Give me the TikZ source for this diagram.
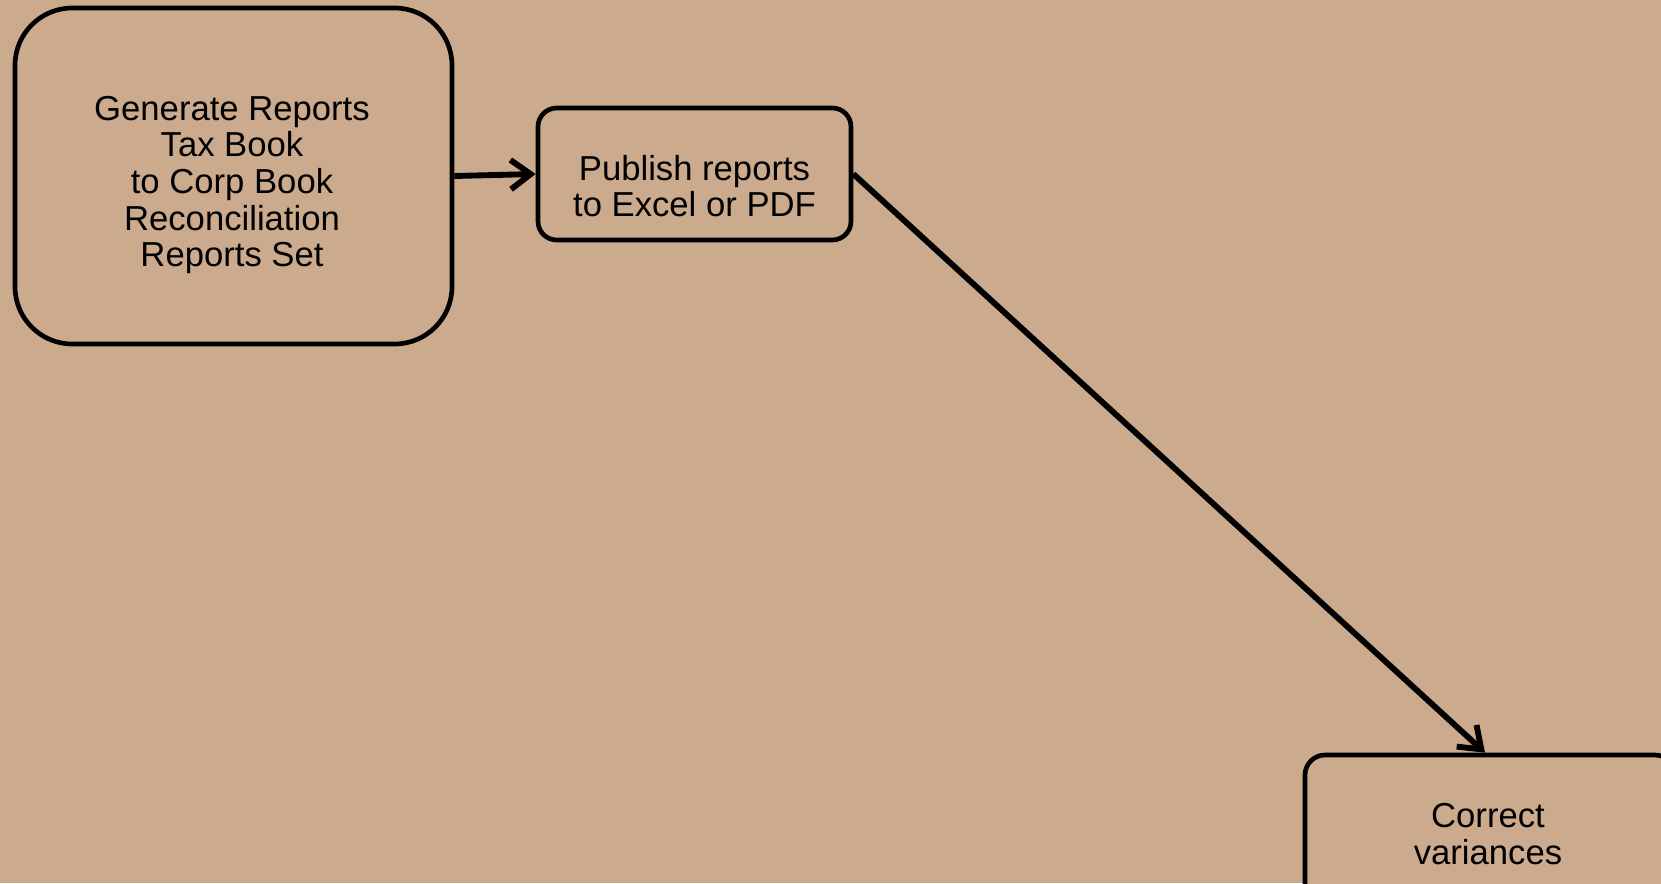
\documentclass[tikz,border=0pt]{standalone}
\usepackage{fontspec}
\setmainfont{Liberation Sans}
\usetikzlibrary{arrows.meta}
\definecolor{bgtan}{RGB}{203,170,142}
\begin{document}
\begin{tikzpicture}[x=0.75pt,y=-0.75pt,
  box/.style={draw=black, line width=3.5pt, rounded corners=#1, fill=bgtan, inner sep=0pt},
  txt/.style={align=center, font=\fontsize{26}{27.4}\selectfont, inner sep=0pt},
  conn/.style={line width=4.4pt, -{Straight Barb[length=15pt,width=22pt,line width=4.4pt]}}]
\fill[bgtan] (0,0) rectangle (1661,883);
\useasboundingbox (0,0) rectangle (1661,883);
\node[box=43pt, minimum width=437*0.75pt, minimum height=336*0.75pt] (gen) at (233.5,176) {};
\node[txt] (gentext) at (232,185)
  {Generate Reports\\Tax Book\\to Corp Book\\Reconciliation\\Reports Set};
\node[box=14pt, minimum width=313*0.75pt, minimum height=132*0.75pt] (pub) at (694.5,174) {};
\node[txt] (pubtext) at (694.5,186) {Publish reports\\to Excel or PDF};
\begin{scope}
\clip (0,0) rectangle (1661,883);
\node[box=15pt, minimum width=370*0.75pt, minimum height=160*0.75pt] (cor) at (1490,835) {};
\node[txt] (cortext) at (1488,834) {Correct\\variances};
\end{scope}
\draw[conn] (gen.east) -- (pub.west);
\draw[conn] (pub.east) -- (cor.north -| 1485,0);
\end{tikzpicture}
\end{document}
